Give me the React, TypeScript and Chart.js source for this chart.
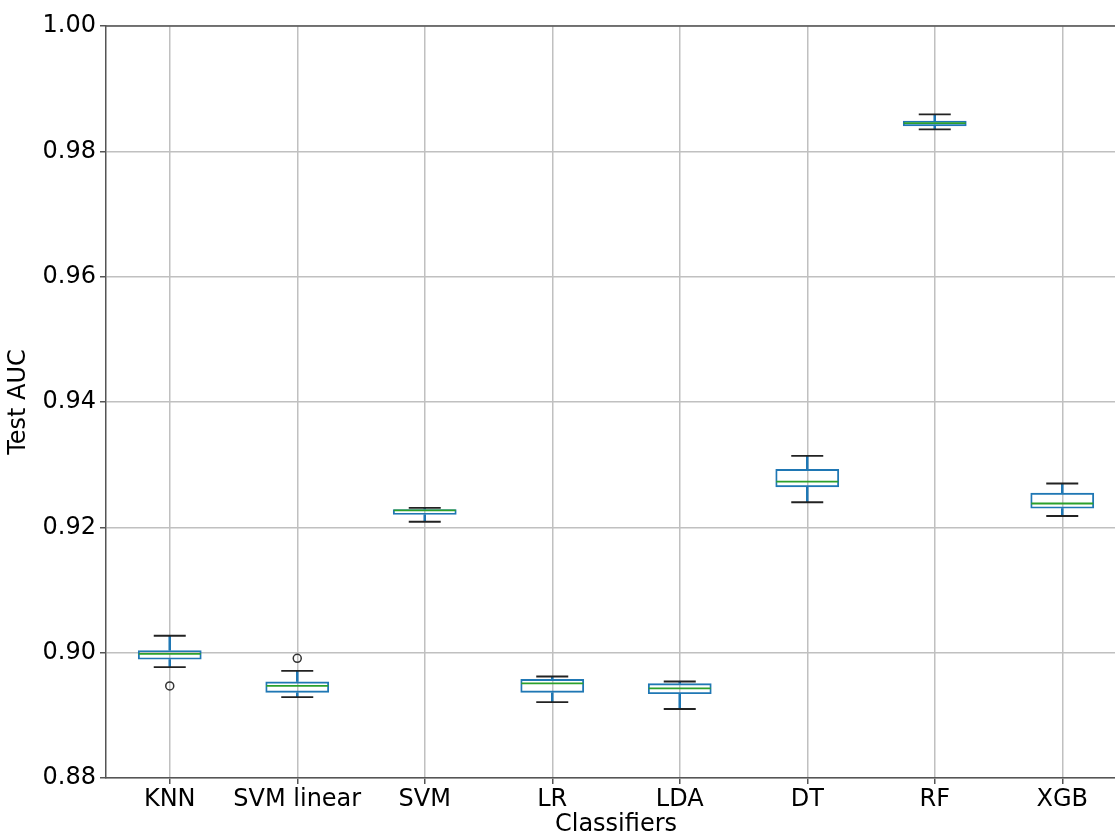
import React, { useEffect, useRef } from 'react';
import { Chart, registerables } from 'chart.js';

Chart.register(...registerables);

const categories = ['KNN', 'SVM linear', 'SVM', 'LR', 'LDA', 'DT', 'RF', 'XGB'];
const whiskerLow = [0.8977, 0.8929, 0.9209, 0.8921, 0.891, 0.924, 0.9835, 0.9218];
const quartile1 = [0.8989, 0.8936, 0.922, 0.8936, 0.8934, 0.9264, 0.984, 0.923];
const medians = [0.8998, 0.8947, 0.9227, 0.8951, 0.8943, 0.9273, 0.9845, 0.9238];
const quartile3 = [0.9004, 0.8954, 0.9229, 0.8958, 0.8951, 0.9293, 0.9849, 0.9255];
const whiskerHigh = [0.9027, 0.8971, 0.9231, 0.8962, 0.8954, 0.9314, 0.9859, 0.927];
const outliers: (number | null)[] = [0.8947, 0.8991, null, null, null, null, null, null];
const yTicks = [0.88, 0.9, 0.92, 0.94, 0.96, 0.98, 1.0];

const BLUE = '#1f77b4';
const GREEN = '#2ca02c';
const FONT = "'DejaVu Sans', sans-serif";
const LW = 1.9;

const topBorder = {
  id: 'topBorder',
  afterDraw(chart: any) {
    const { ctx, chartArea } = chart;
    ctx.save();
    ctx.strokeStyle = '#555';
    ctx.lineWidth = 1.5;
    ctx.beginPath();
    ctx.moveTo(chartArea.left - 0.75, chartArea.top);
    ctx.lineTo(chartArea.right, chartArea.top);
    ctx.stroke();
    ctx.restore();
  },
};

export default function App() {
  const ref = useRef<HTMLCanvasElement | null>(null);
  useEffect(() => {
    if (!ref.current) return;
    const chart = new Chart(ref.current, {
      type: 'bar',
      data: {
        labels: categories,
        datasets: [
          {
            type: 'line',
            data: medians,
            showLine: false,
            pointStyle: 'line',
            pointRadius: 31,
            pointHoverRadius: 31,
            pointBorderColor: GREEN,
            pointBorderWidth: LW,
            order: 0,
          } as any,
          {
            type: 'line',
            data: whiskerHigh,
            showLine: false,
            pointStyle: 'line',
            pointRadius: 16,
            pointHoverRadius: 16,
            pointBorderColor: '#222',
            pointBorderWidth: LW,
            order: 1,
          } as any,
          {
            type: 'line',
            data: whiskerLow,
            showLine: false,
            pointStyle: 'line',
            pointRadius: 16,
            pointHoverRadius: 16,
            pointBorderColor: '#222',
            pointBorderWidth: LW,
            order: 1,
          } as any,
          {
            type: 'line',
            data: outliers,
            showLine: false,
            pointStyle: 'circle',
            pointRadius: 4,
            pointHoverRadius: 4,
            pointBorderColor: '#333',
            pointBackgroundColor: 'rgba(0,0,0,0)',
            pointBorderWidth: 1.5,
            order: 1,
          } as any,
          {
            type: 'bar',
            data: quartile1.map((q, i) => [q, quartile3[i]]),
            backgroundColor: 'rgba(0,0,0,0)',
            borderColor: BLUE,
            borderWidth: LW,
            borderSkipped: false,
            barPercentage: 0.5,
            categoryPercentage: 1,
            grouped: false,
            order: 2,
          } as any,
          {
            type: 'bar',
            data: quartile3.map((q, i) => [q, whiskerHigh[i]]),
            backgroundColor: BLUE,
            borderWidth: 0,
            barThickness: LW,
            grouped: false,
            order: 3,
          } as any,
          {
            type: 'bar',
            data: whiskerLow.map((w, i) => [w, quartile1[i]]),
            backgroundColor: BLUE,
            borderWidth: 0,
            barThickness: LW,
            grouped: false,
            order: 3,
          } as any,
        ],
      },
      options: {
        responsive: false,
        animation: false,
        events: [],
        layout: { autoPadding: false, padding: { top: 26, right: 14, left: 0, bottom: 0 } },
        plugins: { legend: { display: false }, tooltip: { enabled: false } },
        scales: {
          x: {
            offset: true,
            grid: { offset: false, color: '#c0c0c0', lineWidth: 1.5, tickLength: 6, tickColor: '#555' },
            border: { color: '#555', width: 1.5 },
            ticks: {
              color: '#000',
              font: { family: FONT, size: 24 },
              padding: 1,
              maxRotation: 0,
              autoSkip: false,
            },
            title: {
              display: true,
              text: 'Classifiers',
              color: '#000',
              font: { family: FONT, size: 24, lineHeight: 0.5 },
              padding: { top: 0, bottom: 0 },
            },
            afterFit: (axis: any) => {
              axis.height = 53;
            },
          },
          y: {
            type: 'linear',
            min: 0.88,
            max: 1.0,
            grid: { color: '#c0c0c0', lineWidth: 1.5, tickLength: 6, tickColor: '#555' },
            border: { color: '#555', width: 1.5 },
            afterBuildTicks: (axis: any) => {
              axis.ticks = yTicks.map((v) => ({ value: v }));
            },
            ticks: {
              color: '#000',
              font: { family: FONT, size: 24 },
              padding: 4,
              callback: (v: any) => Number(v).toFixed(2),
            },
            title: {
              display: true,
              text: 'Test AUC',
              color: '#000',
              font: { family: FONT, size: 24, lineHeight: 1.0 },
              padding: { top: 7, bottom: 0 },
            },
            afterFit: (axis: any) => {
              axis.width = 106;
            },
          },
        },
      } as any,
      plugins: [topBorder],
    });
    return () => chart.destroy();
  }, []);

  return (
    <div style={{ position: 'fixed', left: 0, top: 0, width: 1115, height: 831, overflow: 'hidden', background: '#fff' }}>
      <canvas ref={ref} width={1140} height={831} style={{ display: 'block' }} />
    </div>
  );
}
